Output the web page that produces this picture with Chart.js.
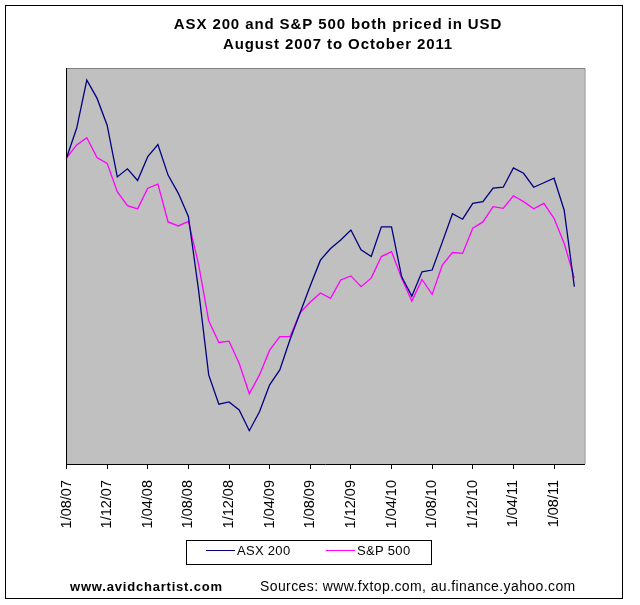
<!DOCTYPE html>
<html>
<head>
<meta charset="utf-8">
<title>ASX 200 and S&amp;P 500 both priced in USD</title>
<script src="https://cdn.jsdelivr.net/npm/chart.js@4.4.1/dist/chart.umd.min.js"></script>
<style>
  body { margin: 0; background: #fff; }
  canvas { display: block; }
</style>
</head>
<body>
<canvas id="chart" width="640" height="605"></canvas>
<script>
// monthly categories, Aug 2007 .. Nov 2011 (last one left empty like the original axis)
var months = [
  '1/08/07', '1/09/07', '1/10/07', '1/11/07', '1/12/07',
  '1/01/08', '1/02/08', '1/03/08', '1/04/08', '1/05/08', '1/06/08', '1/07/08', '1/08/08', '1/09/08', '1/10/08', '1/11/08', '1/12/08',
  '1/01/09', '1/02/09', '1/03/09', '1/04/09', '1/05/09', '1/06/09', '1/07/09', '1/08/09', '1/09/09', '1/10/09', '1/11/09', '1/12/09',
  '1/01/10', '1/02/10', '1/03/10', '1/04/10', '1/05/10', '1/06/10', '1/07/10', '1/08/10', '1/09/10', '1/10/10', '1/11/10', '1/12/10',
  '1/01/11', '1/02/11', '1/03/11', '1/04/11', '1/05/11', '1/06/11', '1/07/11', '1/08/11', '1/09/11', '1/10/11', '1/11/11'
]

// both indexed to 100 at Aug 2007 (no axis values shown)
var asx200 = [
  100, 106.6, 117.3, 113.3, 107.3, 95.8, 97.6, 95.0, 100.3, 103.0, 96.2, 92.2, 87.0,
  70.7, 51.8, 45.3, 45.8, 44.0, 39.4, 43.6, 49.6, 52.9, 59.6, 65.6, 71.6,
  77.3, 79.9, 81.8, 84.0, 79.6, 78.1, 84.7, 84.7, 73.6, 69.3, 74.7, 75.1,
  81.3, 87.6, 86.4, 89.9, 90.3, 93.3, 93.5, 97.8, 96.6, 93.5, 94.5, 95.5, 88.4, 71.4
]
var sp500 = [
  100, 102.9, 104.5, 100.1, 98.8, 92.5, 89.4, 88.7, 93.3, 94.2, 85.8, 84.9, 85.9,
  76.4, 63.8, 59.0, 59.3, 54.4, 47.6, 51.8, 57.3, 60.3, 60.3, 65.6, 68.0,
  70.0, 68.8, 72.9, 73.8, 71.4, 73.3, 78.1, 79.2, 73.3, 68.2, 73.0, 69.7,
  76.2, 79.0, 78.8, 84.4, 85.8, 89.2, 88.8, 91.6, 90.3, 88.7, 89.9, 86.6, 81.0, 73.3
]

var titleLines = ['ASX 200 and S&P 500 both priced in USD', 'August 2007 to October 2011']
var seriesNames = ['ASX 200', 'S&P 500']
var seriesColors = ['#000080', '#ff00ff']
var siteText = 'www.avidchartist.com'
var sourceText = 'Sources: www.fxtop.com, au.finance.yahoo.com'

var FONT = '"Liberation Sans", Arial, sans-serif'

function spaced(ctx, px) {
  if ('letterSpacing' in ctx) ctx.letterSpacing = px + 'px'
}

var decor = {
  id: 'decor',
  beforeDraw: function(chart) {
    var ctx = chart.ctx, a = chart.chartArea
    ctx.save()
    ctx.fillStyle = '#fff'
    ctx.fillRect(0, 0, chart.width, chart.height)
    ctx.fillStyle = '#c0c0c0'
    ctx.fillRect(a.left, a.top, a.right - a.left, a.bottom - a.top)
    ctx.restore()
  },
  afterDraw: function(chart) {
    var ctx = chart.ctx, a = chart.chartArea
    ctx.save()
    ctx.lineWidth = 1
    // plot border: grey top/right, black value axis on the left
    ctx.strokeStyle = '#808080'
    ctx.beginPath()
    ctx.moveTo(a.left, a.top + 0.5)
    ctx.lineTo(a.right + 0.5, a.top + 0.5)
    ctx.lineTo(a.right + 0.5, a.bottom)
    ctx.stroke()
    ctx.strokeStyle = '#000'
    ctx.beginPath()
    ctx.moveTo(Math.round(a.left) - 0.5, a.top)
    ctx.lineTo(Math.round(a.left) - 0.5, a.bottom + 1)
    ctx.stroke()

    // title
    ctx.fillStyle = '#000'
    ctx.textAlign = 'center'
    ctx.textBaseline = 'alphabetic'
    ctx.font = 'bold 15px ' + FONT
    spaced(ctx, 0.9)
    ctx.fillText(titleLines[0], 338, 28.5)
    ctx.fillText(titleLines[1], 338, 48.5)

    // legend box
    spaced(ctx, 0)
    ctx.fillStyle = '#fff'
    ctx.fillRect(186, 540, 246, 25)
    ctx.strokeStyle = '#000'
    ctx.strokeRect(186.5, 540.5, 245, 24)
    var lx = [206, 326]
    ctx.font = '13px ' + FONT
    ctx.textAlign = 'left'
    ctx.textBaseline = 'middle'
    for (var i = 0; i < seriesNames.length; i++) {
      ctx.strokeStyle = seriesColors[i]
      ctx.beginPath()
      ctx.moveTo(lx[i], 550.5)
      ctx.lineTo(lx[i] + 29, 550.5)
      ctx.stroke()
      ctx.fillStyle = '#000'
      spaced(ctx, 0.3)
      ctx.fillText(seriesNames[i], lx[i] + 31, 551)
    }

    // footer
    ctx.font = 'bold 13px ' + FONT
    spaced(ctx, 0.8)
    ctx.fillText(siteText, 70, 587)
    ctx.font = '14px ' + FONT
    spaced(ctx, 0.4)
    ctx.fillText(sourceText, 260, 587)

    // outer frame
    spaced(ctx, 0)
    ctx.strokeStyle = '#000'
    ctx.strokeRect(5.5, 5.5, 617, 593)
    ctx.restore()
  }
}

var ctx = document.getElementById('chart').getContext('2d')
var myChart = new Chart(ctx, {
  type: 'line',
  data: {
    labels: months,
    datasets: [{
      label: seriesNames[0],
      data: asx200,
      borderColor: seriesColors[0],
      borderWidth: 1.3,
      pointRadius: 0,
      fill: false,
      tension: 0
    }, {
      label: seriesNames[1],
      data: sp500,
      borderColor: seriesColors[1],
      borderWidth: 1.3,
      pointRadius: 0,
      fill: false,
      tension: 0
    }]
  },
  options: {
    responsive: false,
    animation: false,
    layout: { padding: { left: 66.5, right: 55.5, top: 68, bottom: 0 } },
    plugins: {
      legend: { display: false },
      title: { display: false },
      tooltip: { enabled: false }
    },
    scales: {
      x: {
        offset: false,
        afterFit: function(scale) { scale.height = 141 },
        grid: {
          offset: false,
          drawOnChartArea: false,
          drawTicks: true,
          tickLength: 5,
          color: function(c) { return c.index % 4 === 0 ? '#000' : 'rgba(0,0,0,0)' }
        },
        border: { display: true, color: '#000', width: 1 },
        ticks: {
          autoSkip: false,
          minRotation: 90,
          maxRotation: 90,
          padding: 11,
          color: '#000',
          font: { family: FONT, size: 14.5 },
          callback: function(v, i) { return i % 4 === 0 ? this.getLabelForValue(v) : '' }
        }
      },
      y: {
        display: false,
        min: 32,
        max: 120
      }
    }
  },
  plugins: [decor]
})
</script>
</body>
</html>
